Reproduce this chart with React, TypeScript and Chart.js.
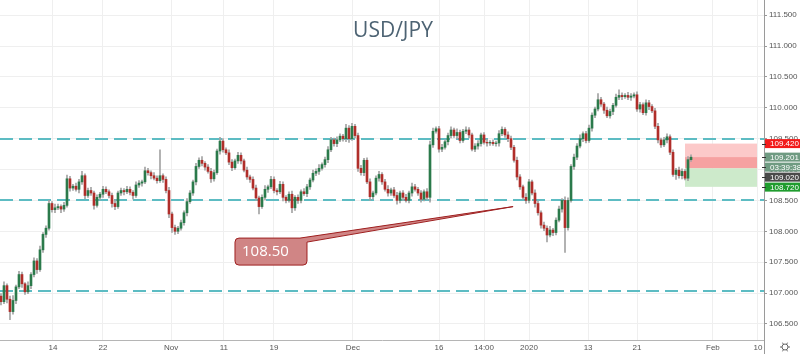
import React, { useEffect, useRef } from 'react';
import { Chart, registerables } from 'chart.js';

Chart.register(...registerables);

// ---- data ----
const firstOpen = 106.95;
const closes = [
  106.86, 107.12, 106.90, 106.70, 106.88, 107.10, 107.30, 107.15, 107.02, 107.12,
  107.30, 107.52, 107.38, 107.70, 107.95, 108.05, 108.45, 108.35, 108.38, 108.40,
  108.36, 108.42, 108.85, 108.70, 108.73, 108.68, 108.80, 108.90, 108.58, 108.66,
  108.62, 108.42, 108.55, 108.60, 108.68, 108.64, 108.58, 108.45, 108.40, 108.62,
  108.66, 108.64, 108.68, 108.63, 108.58, 108.75, 108.78, 108.80, 108.98, 108.95,
  108.90, 108.86, 108.82, 108.90, 108.84, 108.66, 108.28, 108.06, 108.00, 108.05,
  108.14, 108.30, 108.48, 108.62, 108.80, 109.05, 109.15, 109.10, 109.04, 108.97,
  108.85, 108.95, 109.30, 109.46, 109.32, 109.27, 109.12, 109.03, 109.14, 109.23,
  109.14, 108.99, 108.88, 108.84, 108.70, 108.54, 108.40, 108.55, 108.68, 108.72,
  108.84, 108.66, 108.64, 108.76, 108.55, 108.50, 108.60, 108.38, 108.55, 108.50,
  108.64, 108.61, 108.72, 108.83, 108.94, 108.97, 109.02, 109.08, 109.16, 109.32,
  109.48, 109.42, 109.48, 109.54, 109.50, 109.67, 109.50, 109.70, 109.55, 109.02,
  108.95, 109.15, 108.80, 108.56, 108.62, 108.86, 108.92, 108.80, 108.68, 108.62,
  108.67, 108.58, 108.50, 108.62, 108.55, 108.50, 108.62, 108.72, 108.68, 108.62,
  108.52, 108.64, 108.55, 109.40, 109.62, 109.66, 109.33, 109.36, 109.45, 109.55,
  109.64, 109.55, 109.60, 109.47, 109.62, 109.64, 109.56, 109.33, 109.38, 109.42,
  109.56, 109.44, 109.43, 109.44, 109.42, 109.43, 109.58, 109.65, 109.56, 109.50,
  109.36, 109.15, 108.88, 108.72, 108.55, 108.50, 108.80, 108.62, 108.45, 108.30,
  108.10, 108.05, 107.94, 108.02, 107.98, 108.18, 108.36, 108.50, 108.06, 108.50,
  109.05, 109.20, 109.38, 109.50, 109.58, 109.47, 109.67, 109.88, 109.98, 110.13,
  110.06, 109.96, 109.87, 109.94, 110.04, 110.17, 110.20, 110.18, 110.20, 110.17,
  110.19, 110.21, 109.98, 110.05, 109.92, 110.08, 110.02, 109.95, 109.70, 109.48,
  109.40, 109.48, 109.53, 109.28, 108.92, 108.99, 108.90, 108.97, 108.86, 109.16,
  109.20,
];
// wick lengths in pips (0.01)
const wickUp = [
  4, 6, 3, 5, 8, 3, 5, 4, 2, 6, 3, 5, 4, 6, 3, 4, 5, 3, 6, 4,
  3, 5, 6, 4, 3, 5, 4, 7, 3, 4, 5, 3, 4, 3, 5, 4, 3, 4, 6, 3,
  4, 3, 5, 4, 3, 5, 4, 3, 6, 4, 3, 5, 4, 42, 3, 4, 5, 3, 4, 3,
  4, 3, 5, 4, 3, 5, 4, 6, 3, 4, 5, 4, 3, 6, 4, 3, 5, 4, 3, 5,
  4, 3, 5, 3, 4, 5, 3, 4, 6, 3, 5, 4, 3, 5, 4, 3, 4, 5, 3, 4,
  3, 5, 4, 3, 5, 4, 6, 3, 4, 5, 4, 3, 5, 4, 3, 6, 4, 5, 3, 4,
  5, 3, 4, 5, 3, 4, 5, 3, 4, 6, 3, 4, 5, 3, 4, 5, 3, 6, 4, 3,
  4, 3, 5, 6, 5, 3, 4, 5, 3, 4, 5, 3, 6, 4, 3, 5, 4, 3, 4, 5,
  3, 4, 5, 3, 4, 3, 5, 4, 3, 5, 4, 3, 5, 4, 3, 6, 4, 3, 5, 4,
  3, 5, 4, 6, 3, 4, 5, 3, 6, 4, 3, 5, 4, 6, 3, 4, 5, 4, 3, 10,
  4, 3, 5, 4, 3, 5, 9, 4, 3, 5, 4, 3, 5, 4, 3, 5, 4, 3, 4, 5,
  3, 4, 5, 3, 4, 3, 5, 4, 3, 5,
  4,
];
const wickDn = [
  5, 3, 6, 13, 4, 5, 3, 6, 4, 3, 5, 4, 6, 3, 4, 5, 3, 4, 5, 3,
  6, 4, 3, 5, 4, 3, 6, 4, 5, 3, 4, 6, 3, 4, 5, 3, 4, 6, 5, 3,
  4, 5, 3, 4, 6, 3, 4, 5, 3, 4, 5, 3, 4, 3, 5, 4, 6, 8, 5, 4,
  3, 4, 5, 3, 4, 5, 3, 4, 5, 3, 6, 4, 3, 5, 4, 3, 4, 5, 3, 4,
  5, 3, 4, 5, 3, 4, 12, 3, 4, 5, 3, 4, 5, 3, 6, 4, 3, 8, 4, 5,
  4, 3, 5, 4, 3, 4, 5, 3, 4, 5, 3, 4, 5, 3, 4, 5, 6, 3, 4, 5,
  4, 5, 3, 6, 4, 3, 5, 4, 3, 5, 4, 3, 6, 4, 5, 3, 4, 5, 3, 4,
  5, 3, 4, 8, 4, 3, 5, 4, 3, 5, 4, 3, 5, 4, 3, 4, 5, 3, 4, 5,
  4, 3, 5, 4, 3, 4, 5, 3, 4, 5, 4, 3, 5, 4, 3, 5, 4, 3, 6, 4,
  5, 4, 11, 3, 5, 4, 3, 5, 40, 4, 3, 5, 4, 3, 5, 4, 3, 5, 4, 3,
  4, 5, 3, 4, 5, 3, 4, 5, 3, 4, 5, 3, 4, 5, 3, 4, 5, 3, 4, 5,
  4, 3, 5, 4, 3, 8, 4, 5, 3, 4,
  3,
];

const yTickValues = [106.5, 107, 107.5, 108, 108.5, 109, 109.5, 110, 110.5, 111, 111.5];
const xTickLabels = ['14', '22', 'Nov', '11', '19', 'Dec', '16', '14:00', '2020', '13', '21', 'Feb', '10'];
const xTickAt = [17.3, 34, 56.7, 74.3, 91, 117.3, 146, 161, 176, 195.7, 212, 237.3, 252.3];

const levelLines = [109.5, 108.5, 107.03];
const chartTitle = 'USD/JPY';
const calloutText = '108.50';
const calloutTipX = 170.7;
const calloutTipY = 108.4;
const calloutBoxX = 78;
const calloutBoxY = 107.89;

const posStart = 228;
const posEnd = 252;
const stopPrice = 109.42;
const entryPrice = 109.02;
const targetPrice = 108.72;
const lastPrice = 109.201;
const countdown = '03:39:38';

const FONT = '"Liberation Sans", "DejaVu Sans", sans-serif';

const opens = closes.map((c, i) => (i === 0 ? firstOpen : closes[i - 1]));
const highs = closes.map((c, i) => Math.max(c, opens[i]) + wickUp[i] / 100);
const lows = closes.map((c, i) => Math.min(c, opens[i]) - wickDn[i] / 100);

const overlayPlugin = {
  id: 'overlay',
  beforeDatasetsDraw(chart: any) {
    const { ctx, chartArea: a, scales } = chart;
    const x = scales.x, y = scales.y;
    ctx.save();
    const x0 = x.getPixelForValue(posStart);
    const x1 = x.getPixelForValue(posEnd);
    const yS = y.getPixelForValue(stopPrice);
    const yE = y.getPixelForValue(entryPrice);
    const yT = y.getPixelForValue(targetPrice);
    const yL = y.getPixelForValue(lastPrice);
    ctx.fillStyle = '#fcc9c9';
    ctx.fillRect(x0, yS, x1 - x0, yE - yS);
    ctx.fillStyle = '#f6a1a1';
    ctx.fillRect(x0, yL, x1 - x0, yE - yL);
    ctx.fillStyle = '#cdeacb';
    ctx.fillRect(x0, yE, x1 - x0, yT - yE);

    ctx.setLineDash([13, 6]);
    ctx.strokeStyle = '#5dbcc3';
    ctx.lineWidth = 2;
    for (const v of levelLines) {
      const py = Math.round(y.getPixelForValue(v));
      ctx.beginPath();
      ctx.moveTo(a.left, py);
      ctx.lineTo(a.right, py);
      ctx.stroke();
    }
    ctx.restore();
  },
  afterDatasetsDraw(chart: any) {
    const { ctx, scales } = chart;
    const x = scales.x, y = scales.y;
    ctx.save();
    // callout
    const tx = x.getPixelForValue(calloutTipX);
    const ty = y.getPixelForValue(calloutTipY);
    const bx = x.getPixelForValue(calloutBoxX);
    const by = y.getPixelForValue(calloutBoxY);
    const w = 72, h = 27, r = 4;
    ctx.beginPath();
    ctx.moveTo(bx + r, by);
    ctx.lineTo(bx + w - 7, by);
    ctx.lineTo(tx, ty);
    ctx.lineTo(bx + w, by + 4);
    ctx.lineTo(bx + w, by + h - r);
    ctx.quadraticCurveTo(bx + w, by + h, bx + w - r, by + h);
    ctx.lineTo(bx + r, by + h);
    ctx.quadraticCurveTo(bx, by + h, bx, by + h - r);
    ctx.lineTo(bx, by + r);
    ctx.quadraticCurveTo(bx, by, bx + r, by);
    ctx.closePath();
    ctx.fillStyle = '#d08585';
    ctx.fill();
    ctx.strokeStyle = '#9e1f1f';
    ctx.lineWidth = 1;
    ctx.stroke();
    ctx.fillStyle = '#ffffff';
    ctx.font = '15px "Open Sans", sans-serif';
    ctx.textAlign = 'left';
    ctx.textBaseline = 'middle';
    ctx.fillText(calloutText, bx + 7, by + h / 2 + 0.5);

    // title
    ctx.fillStyle = '#4d6373';
    ctx.font = '21px "Open Sans", sans-serif';
    ctx.textAlign = 'center';
    ctx.textBaseline = 'alphabetic';
    ctx.fillText(chartTitle, 393, 37);
    ctx.restore();
  },
  afterDraw(chart: any) {
    const { ctx, chartArea: a, scales, height } = chart;
    const y = scales.y;
    ctx.save();
    // right border full height
    ctx.strokeStyle = '#9a9a9a';
    ctx.lineWidth = 1;
    ctx.beginPath();
    ctx.moveTo(a.right + 0.5, 0);
    ctx.lineTo(a.right + 0.5, height);
    ctx.stroke();

    const labels = [
      { v: stopPrice, t: stopPrice.toFixed(3), c: '#f21b1b' },
      { v: lastPrice, t: lastPrice.toFixed(3), c: '#6f9b82' },
      { v: lastPrice, t: countdown, c: '#6f9b82', below: true },
      { v: entryPrice, t: entryPrice.toFixed(3), c: '#4a4a4a' },
      { v: targetPrice, t: targetPrice.toFixed(3), c: '#1f9c2e' },
    ];
    let prev = -1000;
    const bh = 10;
    ctx.font = '8px ' + FONT;
    ctx.textAlign = 'left';
    ctx.textBaseline = 'middle';
    for (const l of labels) {
      let cy = y.getPixelForValue(l.v);
      if ((l as any).below) cy = prev + bh;
      if (cy < prev + bh) cy = prev + bh;
      prev = cy;
      ctx.fillStyle = l.c;
      ctx.fillRect(a.right + 1, cy - bh / 2 + 0.5, chart.width - a.right - 1, bh - 1);
      ctx.fillStyle = '#333';
      ctx.fillRect(a.right - 2, Math.round(cy), 4, 1);
      ctx.fillStyle = '#ffffff';
      ctx.fillText(l.t, a.right + 6, cy + 0.5);
    }

    // gear icon
    const gx = 785, gy = 347;
    ctx.strokeStyle = '#666';
    ctx.lineWidth = 1;
    ctx.beginPath();
    ctx.arc(gx, gy, 3, 0, Math.PI * 2);
    ctx.stroke();
    for (let k = 0; k < 6; k++) {
      const ang = (k * Math.PI) / 3;
      ctx.beginPath();
      ctx.moveTo(gx + Math.cos(ang) * 3, gy + Math.sin(ang) * 3);
      ctx.lineTo(gx + Math.cos(ang) * 5, gy + Math.sin(ang) * 5);
      ctx.stroke();
    }
    ctx.restore();
  },
};

export default function App() {
  const ref = useRef<HTMLCanvasElement | null>(null);
  useEffect(() => {
    if (!ref.current) return;
    const bodies = closes.map((c, i) => ({ x: i, y: [opens[i], c] }));
    const wicks = closes.map((c, i) => ({ x: i, y: [lows[i], highs[i]] }));
    const bodyColors = closes.map((c, i) => (c >= opens[i] ? '#2b7a4b' : '#b02e2a'));
    const chart = new Chart(ref.current, {
      type: 'bar',
      data: {
        datasets: [
          {
            data: bodies as any,
            backgroundColor: bodyColors,
            borderWidth: 0,
            barThickness: 2,
            grouped: false,
            order: 0,
          } as any,
          {
            data: wicks as any,
            backgroundColor: '#a3a3a3',
            borderWidth: 0,
            barThickness: 1,
            grouped: false,
            order: 1,
          } as any,
        ],
      },
      options: {
        responsive: false,
        maintainAspectRatio: false,
        animation: false,
        layout: { padding: 0 },
        plugins: { legend: { display: false }, tooltip: { enabled: false }, title: { display: false } },
        scales: {
          x: {
            type: 'linear',
            min: -0.33,
            max: 254.33,
            offset: false,
            afterBuildTicks: (s: any) => {
              s.ticks = xTickAt.map((v) => ({ value: v }));
            },
            afterFit: (s: any) => {
              s.height = 14;
              s.paddingLeft = 0;
              s.paddingRight = 0;
            },
            ticks: {
              autoSkip: false,
              maxRotation: 0,
              padding: 3,
              color: '#555',
              font: { size: 8, family: FONT },
              callback: (_v: any, i: number) => xTickLabels[i],
            },
            grid: { color: '#efefef', drawTicks: false, offset: false },
            border: { color: '#b5b5b5' },
          },
          y: {
            position: 'right',
            min: 106.24,
            max: 111.745,
            afterBuildTicks: (s: any) => {
              s.ticks = yTickValues.map((v) => ({ value: v }));
            },
            afterFit: (s: any) => {
              s.width = 36;
              s.paddingTop = 0;
              s.paddingBottom = 0;
            },
            ticks: {
              padding: 2,
              color: '#555',
              font: { size: 8, family: FONT },
              callback: (v: any) => Number(v).toFixed(3),
            },
            grid: { color: '#efefef', tickColor: '#999', tickLength: 3 },
            border: { color: '#9a9a9a' },
          },
        },
      } as any,
      plugins: [overlayPlugin],
    });
    return () => chart.destroy();
  }, []);
  return (
    <div style={{ position: 'absolute', left: 0, top: 0, width: 800, height: 354, background: '#fff' }}>
      <canvas ref={ref} width={800} height={354} style={{ display: 'block' }} />
    </div>
  );
}
